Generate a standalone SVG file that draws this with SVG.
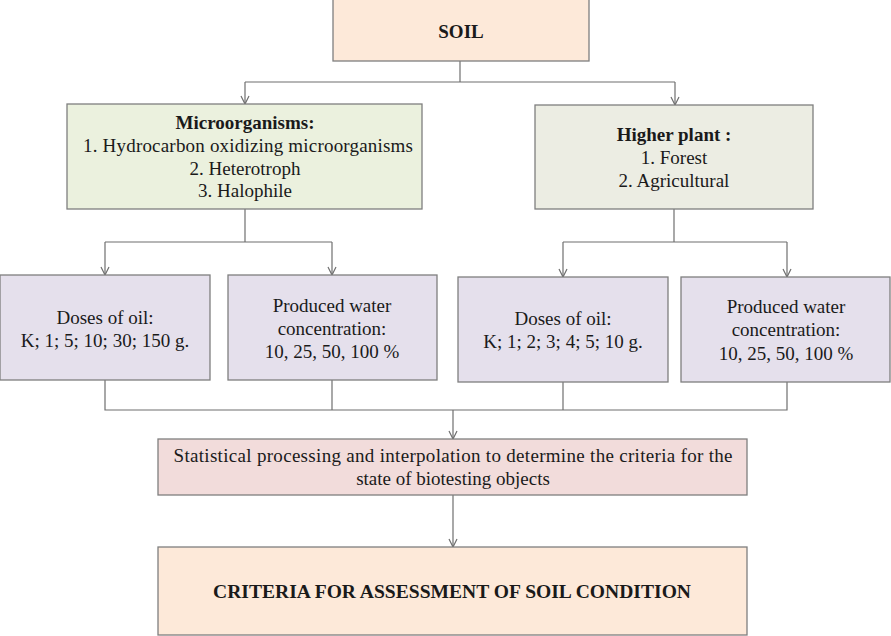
<svg xmlns="http://www.w3.org/2000/svg" width="891" height="636" viewBox="0 0 891 636">
<style>
text{font-family:'Liberation Serif',serif;font-size:19px;fill:#1a1a1a;text-anchor:middle}
.b{font-weight:bold}
.box{stroke:#7f7f7f;stroke-width:1.3}
.peach{fill:#fde9d9}
.olive{fill:#ebf1de}
.olive2{fill:#ecede3}
.lav{fill:#e5e0ec}
.rose{fill:#f2dcdb}
.ln{fill:none;stroke:#6f6f6f;stroke-width:1.2}
</style>
<defs>
<marker id="ah" viewBox="0 0 10 10" refX="9" refY="5" markerWidth="10" markerHeight="10" markerUnits="userSpaceOnUse" orient="auto">
<path d="M1,1 L9,5 L1,9" fill="none" stroke="#6f6f6f" stroke-width="1.2"/>
</marker>
</defs>
<g id="connectors">
<path class="ln" d="M460,61 V82"/>
<path class="ln" d="M245,82 H675"/>
<path class="ln" d="M245,82 V104" marker-end="url(#ah)"/>
<path class="ln" d="M675,82 V105" marker-end="url(#ah)"/>
<path class="ln" d="M245,209 V242"/>
<path class="ln" d="M105,242 H332"/>
<path class="ln" d="M105,242 V275" marker-end="url(#ah)"/>
<path class="ln" d="M332,242 V275" marker-end="url(#ah)"/>
<path class="ln" d="M674,209 V242"/>
<path class="ln" d="M563,242 H787"/>
<path class="ln" d="M563,242 V277" marker-end="url(#ah)"/>
<path class="ln" d="M787,242 V277" marker-end="url(#ah)"/>
<path class="ln" d="M105,380 V410 H787 V382"/>
<path class="ln" d="M332,380 V410"/>
<path class="ln" d="M563,382 V410"/>
<path class="ln" d="M453,410 V439" marker-end="url(#ah)"/>
<path class="ln" d="M453,495 V547" marker-end="url(#ah)"/>
</g>
<g id="soil">
<rect class="box peach" x="333" y="-1" width="256" height="62"/>
<text class="b" x="461" y="38">SOIL</text>
</g>
<g id="microorganisms">
<rect class="box olive" x="67" y="104" width="355" height="105"/>
<text class="b" x="245" y="129">Microorganisms:</text>
<text x="248" y="152" textLength="330" lengthAdjust="spacing">1. Hydrocarbon  oxidizing  microorganisms</text>
<text x="245" y="175">2. Heterotroph</text>
<text x="245" y="197">3. Halophile</text>
</g>
<g id="higher-plant">
<rect class="box olive2" x="535" y="105" width="278" height="104"/>
<text class="b" x="674" y="141">Higher plant :</text>
<text x="674" y="164">1. Forest</text>
<text x="674" y="187">2. Agricultural</text>
</g>
<g id="doses-micro">
<rect class="box lav" x="0" y="275" width="210" height="105"/>
<text x="105" y="324">Doses of oil:</text>
<text x="105" y="347">K; 1; 5; 10; 30; 150 g.</text>
</g>
<g id="water-micro">
<rect class="box lav" x="228" y="275" width="209" height="105"/>
<text x="332" y="312">Produced  water</text>
<text x="332" y="335">concentration:</text>
<text x="332" y="358">10, 25, 50, 100 %</text>
</g>
<g id="doses-plant">
<rect class="box lav" x="458" y="277" width="210" height="105"/>
<text x="563" y="325">Doses of oil:</text>
<text x="563" y="348">K; 1; 2; 3; 4; 5; 10 g.</text>
</g>
<g id="water-plant">
<rect class="box lav" x="681" y="277" width="209" height="105"/>
<text x="786" y="313">Produced  water</text>
<text x="786" y="336">concentration:</text>
<text x="786" y="360">10, 25, 50, 100 %</text>
</g>
<g id="statistics">
<rect class="box rose" x="158" y="439" width="589" height="56"/>
<text x="453" y="462" textLength="559" lengthAdjust="spacing">Statistical  processing  and interpolation  to determine  the  criteria  for  the</text>
<text x="453" y="485">state  of biotesting  objects</text>
</g>
<g id="criteria">
<rect class="box peach" x="158" y="547" width="589" height="88"/>
<text class="b" x="452" y="598" textLength="478" lengthAdjust="spacingAndGlyphs">CRITERIA FOR ASSESSMENT  OF SOIL CONDITION</text>
</g>
</svg>
